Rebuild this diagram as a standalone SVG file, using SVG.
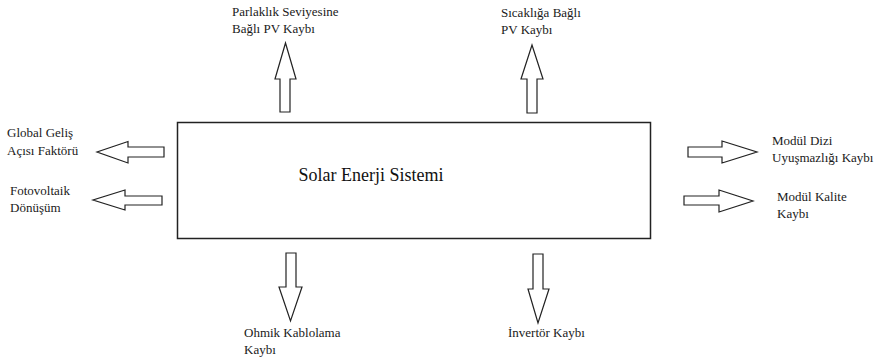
<svg xmlns="http://www.w3.org/2000/svg" width="880" height="359" viewBox="0 0 880 359">
<style>
.t{font-family:"Liberation Serif","Times New Roman",serif;font-size:13px;fill:#1a1a1a}
.m{font-family:"Liberation Serif","Times New Roman",serif;font-size:18px;fill:#111}
.a{fill:#fff;stroke:#222;stroke-width:1.2;stroke-linejoin:miter}
.b{fill:#fff;stroke:#222;stroke-width:1.5}
</style>
<rect width="880" height="359" fill="#fff"/>
<g id="main">
<rect class="b" x="177.5" y="122.5" width="473" height="116"/>
<text class="m" x="371" y="181" text-anchor="middle">Solar Enerji Sistemi</text>
</g>
<g id="connectors">
<polygon class="a" points="280,112 290,112 290,79 296,79 285.5,43 275,79 280,79"/>
<polygon class="a" points="527,113 537,113 537,79 543,79 532,45 521,79 527,79"/>
<polygon class="a" points="164,147 128,147 128,141.5 97,152 128,163 128,157 164,157"/>
<polygon class="a" points="162,196 125,196 125,190 93,200 125,210 125,205 162,205"/>
<polygon class="a" points="688,147 722,147 722,141 757,152 722,163 722,157 688,157"/>
<polygon class="a" points="684,196 719,196 719,190 753,201 719,212 719,205 684,205"/>
<polygon class="a" points="286,253 296,253 296,287 302,287 290.5,321 279,287 286,287"/>
<polygon class="a" points="533,254 543,254 543,289 549,289 538,323 528,289 533,289"/>
</g>
<g id="n-parlaklik"><text class="t" x="232" y="16">Parlaklık Seviyesine</text><text class="t" x="232" y="33">Bağlı PV Kaybı</text></g>
<g id="n-sicaklik"><text class="t" x="501" y="17">Sıcaklığa Bağlı</text><text class="t" x="501" y="34">PV Kaybı</text></g>
<g id="n-global"><text class="t" x="7" y="137">Global Geliş</text><text class="t" x="7" y="155">Açısı Faktörü</text></g>
<g id="n-fotovoltaik"><text class="t" x="10" y="195">Fotovoltaik</text><text class="t" x="10" y="212">Dönüşüm</text></g>
<g id="n-modul-dizi"><text class="t" x="772" y="145">Modül Dizi</text><text class="t" x="772" y="162">Uyuşmazlığı Kaybı</text></g>
<g id="n-modul-kalite"><text class="t" x="777" y="201">Modül Kalite</text><text class="t" x="777" y="218">Kaybı</text></g>
<g id="n-ohmik"><text class="t" x="244" y="337">Ohmik Kablolama</text><text class="t" x="244" y="354">Kaybı</text></g>
<g id="n-invertor"><text class="t" x="508" y="337">İnvertör Kaybı</text></g>
</svg>
